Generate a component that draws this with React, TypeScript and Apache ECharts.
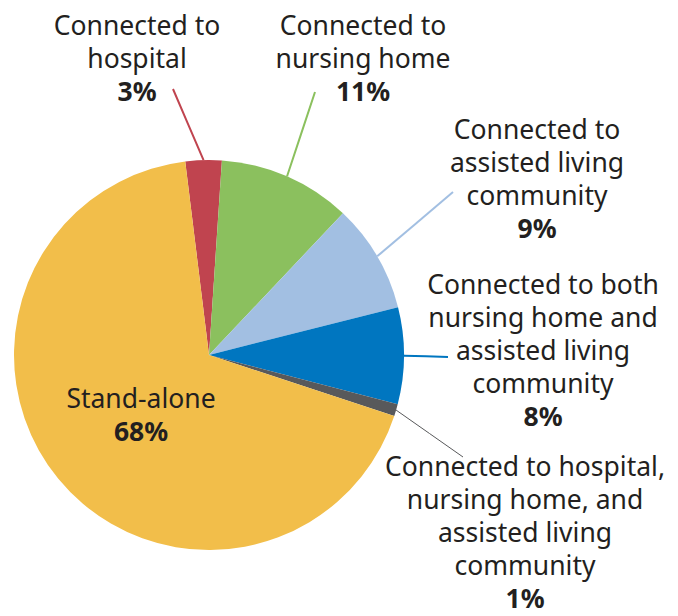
import React, { useEffect, useRef } from "react";
import * as echarts from "echarts";

const categories = [
  "Connected to\nhospital",
  "Connected to\nnursing home",
  "Connected to\nassisted living\ncommunity",
  "Connected to both\nnursing home and\nassisted living\ncommunity",
  "Connected to hospital,\nnursing home, and\nassisted living\ncommunity",
  "Stand-alone",
];
const values = [3, 11, 9, 8, 1, 68];
const colors = ["#C0444F", "#8BC05E", "#A2BFE2", "#0076C0", "#58595B", "#F2BE4A"];

// label block centres and label-line end points (layout, not data)
const labelCenters = [
  [137, 58],
  [363, 58],
  [537, 178],
  [543, 350],
  [525, 532],
  [141, 414],
];
const lineEnds = [
  [173, 89],
  [315, 92],
  [453, 192],
  [448, 357],
  [463, 457],
  null,
];

const CX = 209;
const CY = 355;
const R = 195;
const START = 97;

export default function App() {
  const ref = useRef<HTMLDivElement>(null);
  useEffect(() => {
    if (!ref.current) return;
    const chart = echarts.init(ref.current, null, { renderer: "svg" });
    const total = values.reduce((a, b) => a + b, 0);
    const midAngles: number[] = [];
    let acc = 0;
    values.forEach((v) => {
      const start = -(START - 90) * (Math.PI / 180);
      const a = start + ((acc + v / 2) / total) * Math.PI * 2;
      midAngles.push(a);
      acc += v;
    });
    const data = categories.map((name, i) => ({
      name,
      value: values[i],
      itemStyle: { color: colors[i] },
      label: i === 5 ? { position: "inside" } : { position: "outside" },
      labelLine:
        i === 5
          ? { show: false }
          : {
              show: true,
              lineStyle: i === 4 ? { color: "#58595B", width: 1 } : { color: colors[i], width: 2 },
            },
    }));
    chart.setOption({
      animation: false,
      series: [
        {
          type: "pie",
          center: [CX, CY],
          radius: [0, R],
          startAngle: START,
          clockwise: true,
          avoidLabelOverlap: false,
          data,
          itemStyle: { borderWidth: 0 },
          label: {
            show: true,
            formatter: (p: any) => `{a|${p.name}}\n{b|${p.value}%}`,
            rich: {
              a: {
                fontFamily: "Noto Sans",
                fontSize: 26.5,
                lineHeight: 33,
                color: "#231F20",
                align: "center",
              },
              b: {
                fontFamily: "Noto Sans",
                fontSize: 26.5,
                fontWeight: "bold",
                lineHeight: 33,
                color: "#231F20",
                align: "center",
              },
            },
          },
          labelLine: { show: true, length: 10, length2: 10, smooth: false },
          labelLayout: (params: any) => {
            const i = params.dataIndex;
            const c = labelCenters[i];
            const out: any = { x: c[0], y: c[1], align: "center", verticalAlign: "middle" };
            const e = lineEnds[i];
            if (e) {
              const a = midAngles[i];
              const s = [CX + R * Math.sin(a), CY - R * Math.cos(a)];
              out.labelLinePoints = [s, [(s[0] + e[0]) / 2, (s[1] + e[1]) / 2], e];
            }
            return out;
          },
        },
      ],
    });
    return () => chart.dispose();
  }, []);
  return (
    <div
      ref={ref}
      style={{ position: "fixed", left: 0, top: 0, width: 678, height: 616, background: "#fff" }}
    />
  );
}
